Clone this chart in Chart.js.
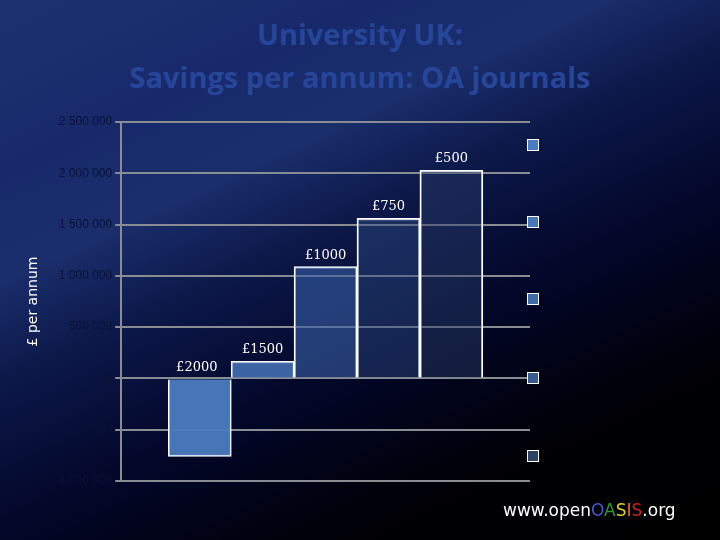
<!DOCTYPE html>
<html>
<head>
<meta charset="utf-8">
<script src="https://cdn.jsdelivr.net/npm/chart.js@4"></script>
<style>
  body { margin: 0; }
  #wrap { position: relative; width: 720px; height: 540px; overflow: hidden;
    background: linear-gradient(155deg, #1d3170 0%, #17296a 20%, #1a2e6c 32%, #0c1848 44%, #03072a 60%, #000005 80%, #000 100%); }
  #title { position: absolute; top: 12px; left: 0; width: 720px; text-align: center;
    font: bold 29px "Open Sans", sans-serif; color: #26469a; line-height: 43px; }
  #chartBox { position: absolute; left: 0; top: 0; width: 720px; height: 540px; }
  .sq { position: absolute; width: 10px; height: 10px; border: 1px solid #fff; }
  #site { position: absolute; left: 503px; top: 500px; font: 17px "DejaVu Sans", sans-serif; color: #fff; }
</style>
</head>
<body>
<div id="wrap">
  <div id="title">University UK:<br>Savings per annum: OA journals</div>
  <div id="chartBox"><canvas id="chart"></canvas></div>
  <div id="legend"></div>
  <div id="site">www.open<span style="color:#3d5bd8">O</span><span style="color:#2e9a2e">A</span><span style="color:#e0d020">S</span><span style="color:#e07020">I</span><span style="color:#d02020">S</span>.org</div>
</div>
<script>
// savings per annum at each article processing charge
const labels = ['£2000', '£1500', '£1000', '£750', '£500'];
const savings = [-760000, 166000, 1090000, 1560000, 2030000];
const colors = ['rgba(74,123,192,0.95)', 'rgba(70,115,185,0.85)', 'rgba(55,95,165,0.6)', 'rgba(45,75,130,0.45)', 'rgba(40,60,105,0.45)'];
const legendColors = ['#4a7bc0', '#4677b8', '#3e6aa6', '#375c8e', '#2c4262'];
const legendTops = [139, 216, 293, 372, 450];

const points = savings.map((v, i) => ({ x: i, y: v }));

const barLabels = {
    id: 'barLabels',
    afterDatasetsDraw(chart) {
        const ctx = chart.ctx;
        const meta = chart.getDatasetMeta(0);
        ctx.save();
        ctx.fillStyle = '#fff';
        ctx.font = '13px "DejaVu Serif", serif';
        ctx.textAlign = 'center';
        meta.data.forEach((bar, i) => {
            const top = Math.min(bar.y, bar.base);
            let y = top - 8;
            if (i === 0) y = bar.base - 8;
            ctx.fillText(labels[i], bar.x + (i === 0 ? -3 : 0), y);
        });
        ctx.restore();
    }
};

new Chart(document.getElementById('chart'), {
    type: 'bar',
    data: {
        datasets: [{
            data: points,
            backgroundColor: colors,
            borderColor: '#ffffff',
            borderWidth: 1.5,
            barThickness: 63
        }]
    },
    options: {
        responsive: true,
        maintainAspectRatio: false,
        animation: false,
        layout: { padding: { top: 122, right: 190, bottom: 59, left: 15 } },
        plugins: { legend: { display: false }, tooltip: { enabled: false } },
        scales: {
            x: {
                type: 'linear', min: -1.25, max: 5.25, offset: false,
                display: false
            },
            y: {
                min: -1000000, max: 2500000,
                ticks: {
                    stepSize: 500000, color: '#0a1238', autoSkip: false,
                    font: { size: 12, family: 'Liberation Sans Narrow, Liberation Sans' },
                    callback: v => v.toLocaleString('en-US').replace(/,/g, ' ')
                },
                grid: { color: '#8a8c94', lineWidth: 2, tickLength: 6 },
                border: { color: '#8a8c94', width: 2 },
                title: { display: true, text: '£ per annum', color: '#fff',
                    font: { size: 14, family: 'DejaVu Sans' }, padding: 10 }
            }
        }
    },
    plugins: [barLabels]
});

const legend = document.getElementById('legend');
legendColors.forEach((c, i) => {
    const d = document.createElement('div');
    d.className = 'sq';
    d.style.left = '527px';
    d.style.top = legendTops[i] + 'px';
    d.style.background = c;
    legend.appendChild(d);
});
</script>
</body>
</html>
